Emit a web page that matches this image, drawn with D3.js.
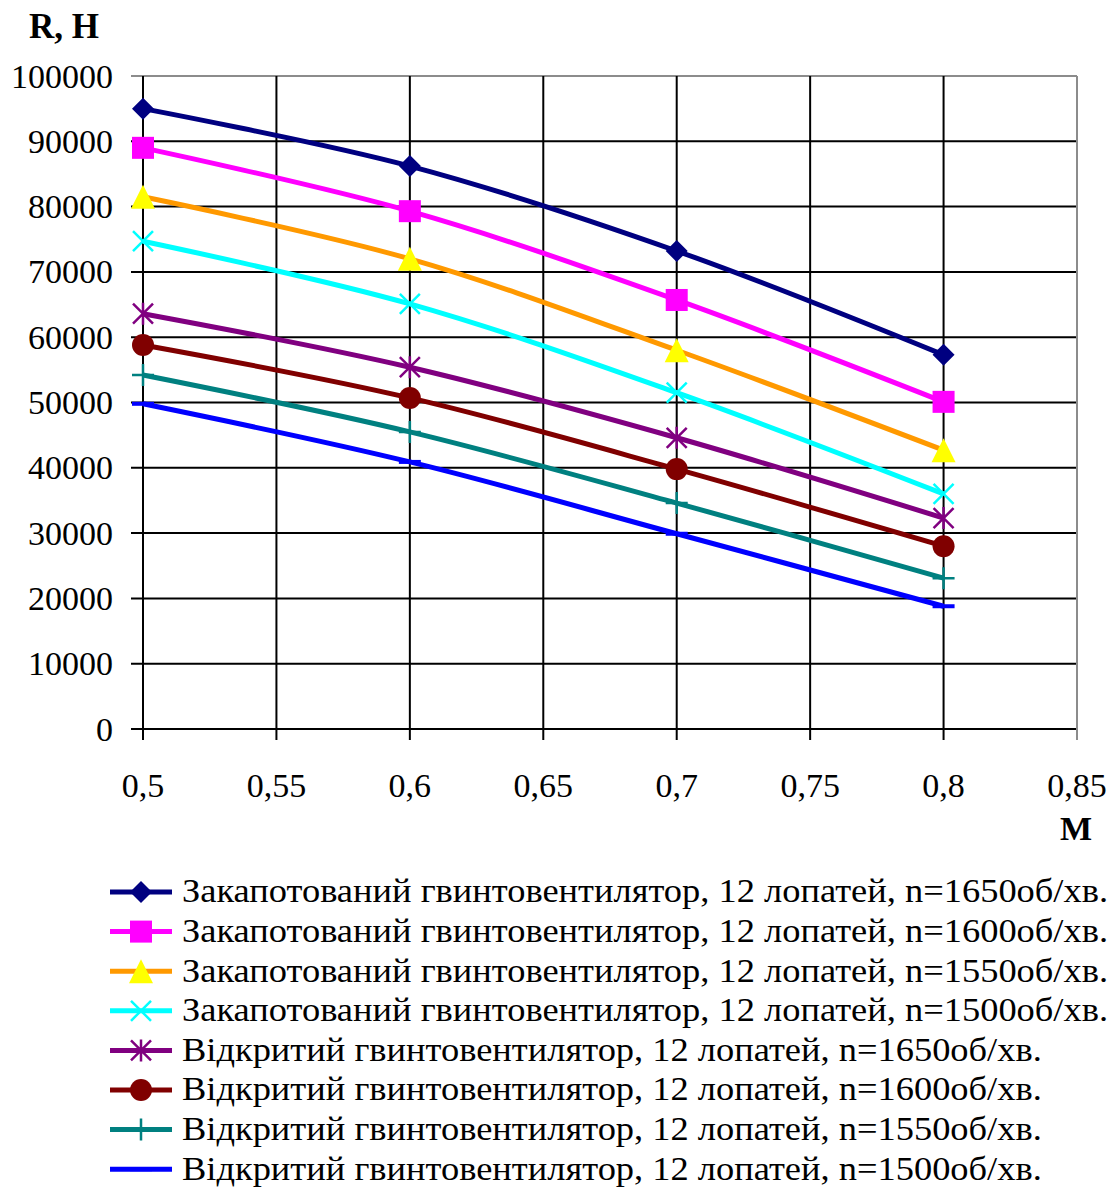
<!DOCTYPE html>
<html>
<head>
<meta charset="utf-8">
<script src="https://cdn.jsdelivr.net/npm/d3@7"></script>
<style>
  body { margin: 0; background: #fff; font-family: 'Liberation Serif', serif; }
  #wrap { position: relative; width: 1119px; height: 1187px; }
  #wrap svg { position: absolute; left: 0; top: 0; }
  .lbl { position: absolute; white-space: nowrap; font-family: 'Liberation Serif', serif; color: #000; }
  .preload { position: absolute; left: 0; top: 0; font-family: 'Liberation Serif'; color: #fff; font-size: 2px; }
  .preload b { font-weight: bold; }
</style>
</head>
<body>
<div class="preload">Ab <b>R</b></div>
<div id="wrap"><svg id="chart" width="1119" height="1187"></svg></div>
<script>
// Mach numbers on the horizontal axis
const machValues = [0.5, 0.6, 0.7, 0.8];

// Thrust R, N for each fan configuration
const shrouded1650 = [95000, 86200, 73200, 57300];
const shrouded1600 = [89000, 79300, 65700, 50100];
const shrouded1550 = [81500, 72000, 58000, 42700];
const shrouded1500 = [74700, 65100, 51500, 36000];
const open1650 = [63600, 55400, 44600, 32300];
const open1600 = [58800, 50700, 39800, 28000];
const open1550 = [54200, 45500, 34600, 23100];
const open1500 = [49800, 40900, 29900, 18800];

const seriesNames = [
  "Закапотований гвинтовентилятор, 12 лопатей, n=1650об/хв.",
  "Закапотований гвинтовентилятор, 12 лопатей, n=1600об/хв.",
  "Закапотований гвинтовентилятор, 12 лопатей, n=1550об/хв.",
  "Закапотований гвинтовентилятор, 12 лопатей, n=1500об/хв.",
  "Відкритий гвинтовентилятор, 12 лопатей, n=1650об/хв.",
  "Відкритий гвинтовентилятор, 12 лопатей, n=1600об/хв.",
  "Відкритий гвинтовентилятор, 12 лопатей, n=1550об/хв.",
  "Відкритий гвинтовентилятор, 12 лопатей, n=1500об/хв."
];

const xTicks = [0.5, 0.55, 0.6, 0.65, 0.7, 0.75, 0.8, 0.85];
const yTicks = [0, 10000, 20000, 30000, 40000, 50000, 60000, 70000, 80000, 90000, 100000];

const seriesValues = [shrouded1650, shrouded1600, shrouded1550, shrouded1500,
                      open1650, open1600, open1550, open1500];
const lineColors = ["#000080", "#ff00ff", "#ff9900", "#00ffff", "#800080", "#800000", "#008080", "#0000ff"];
const markerFill = ["#000080", "#ff00ff", "#ffff00", "none", "none", "#800000", "none", "none"];
const markerTypes = ["diamond", "square", "triangle", "x", "star", "circle", "plus", "dash"];

const wrap = d3.select("#wrap");
const svg = d3.select("#chart");
const plot = { left: 143, right: 1077, top: 76, bottom: 729 };

const x = d3.scaleLinear().domain([0.5, 0.85]).range([plot.left, plot.right]);
const y = d3.scaleLinear().domain([0, 100000]).range([plot.bottom, plot.top]);

// grid
const grid = svg.append("g");
grid.selectAll("line.h").data(yTicks).join("line")
  .attr("x1", plot.left - 12).attr("x2", plot.right)
  .attr("y1", d => y(d)).attr("y2", d => y(d))
  .attr("stroke", d => d === 100000 ? "#8c8c8c" : "#000").attr("stroke-width", 2);
grid.selectAll("line.v").data(xTicks).join("line")
  .attr("y1", plot.top).attr("y2", plot.bottom + 11)
  .attr("x1", d => x(d)).attr("x2", d => x(d))
  .attr("stroke", d => d === 0.85 ? "#8c8c8c" : "#000").attr("stroke-width", 2);

// marker drawing
function drawMarker(g, type, fill, color) {
  const s = 11;
  switch (type) {
    case "diamond":
      g.append("path").attr("d", `M0,${-s}L${s},0L0,${s}L${-s},0Z`).attr("fill", fill);
      break;
    case "square":
      g.append("rect").attr("x", -11).attr("y", -11).attr("width", 22).attr("height", 22).attr("fill", fill);
      break;
    case "triangle":
      g.append("path").attr("d", `M0,-12L12,12L-12,12Z`).attr("fill", fill);
      break;
    case "circle":
      g.append("circle").attr("r", 11).attr("fill", fill);
      break;
    case "x":
      g.append("path").attr("d", "M-10,-10L10,10M-10,10L10,-10").attr("stroke", color).attr("stroke-width", 2.5);
      break;
    case "star":
      g.append("path").attr("d", "M-10,-10L10,10M-10,10L10,-10M0,-11L0,11").attr("stroke", color).attr("stroke-width", 2.5);
      break;
    case "plus":
      g.append("path").attr("d", "M-11,0L11,0M0,-11L0,11").attr("stroke", color).attr("stroke-width", 2.5);
      break;
    case "dash":
      g.append("path").attr("d", "M-11,0L11,0").attr("stroke", color).attr("stroke-width", 4);
      break;
  }
}

const line = d3.line().x(d => x(d[0])).y(d => y(d[1])).curve(d3.curveCatmullRom.alpha(0.5));

seriesValues.forEach((vals, i) => {
  const pts = machValues.map((m, j) => [m, vals[j]]);
  const g = svg.append("g");
  g.append("path").datum(pts).attr("d", line)
    .attr("fill", "none").attr("stroke", lineColors[i]).attr("stroke-width", 5);
  pts.forEach(p => {
    const mg = g.append("g").attr("transform", `translate(${x(p[0])},${y(p[1])})`);
    drawMarker(mg, markerTypes[i], markerFill[i], lineColors[i]);
  });
});

// legend keys
const legendY = i => 892 + i * 39.6;
const legend = svg.append("g");
seriesNames.forEach((name, i) => {
  const cy = legendY(i);
  const row = legend.append("g");
  row.append("line").attr("x1", 110).attr("x2", 172).attr("y1", cy).attr("y2", cy)
    .attr("stroke", lineColors[i]).attr("stroke-width", 5);
  const mg = row.append("g").attr("transform", `translate(141,${cy})`);
  drawMarker(mg, markerTypes[i], markerFill[i], lineColors[i]);
});

// text label placed by its baseline; anchor: start | middle | end
function label(layer, px, baseline, txt, opts = {}) {
  const fs = opts.size || 34;
  const shift = opts.anchor === "end" ? "-100%" : opts.anchor === "middle" ? "-50%" : "0";
  return layer.append("div").attr("class", "lbl")
    .style("left", px + "px")
    .style("top", (baseline - 0.8375 * fs) + "px")
    .style("font-size", fs + "px")
    .style("line-height", fs + "px")
    .style("font-weight", opts.bold ? "bold" : "normal")
    .style("transform", `translateX(${shift})`)
    .text(txt);
}

function drawLabels() {
  wrap.selectAll("div.texts").remove();
  const layer = wrap.append("div").attr("class", "texts");
  const fmtY = d3.format("d");
  yTicks.forEach(d => label(layer, 113, y(d) + 12, fmtY(d), { anchor: "end" }));
  xTicks.forEach(d => label(layer, x(d), 797, String(d).replace(".", ","), { anchor: "middle" }));

  label(layer, 29, 38, "R, H", { bold: true, size: 35 });
  label(layer, 1076, 840, "M", { bold: true, size: 34, anchor: "middle" });

  const legendLabels = seriesNames.map((name, i) => label(layer, 182, legendY(i) + 11, name, { size: 33 }));
  // legend captions are stretched wider than the font's natural width
  const natural = legendLabels[0].node().getBoundingClientRect().width;
  const stretch = 926 / natural;
  legendLabels.forEach(l => l.style("transform-origin", "0 0").style("transform", `scaleX(${stretch})`));
}

drawLabels();
if (document.fonts && document.fonts.load) {
  Promise.all([
    document.fonts.load("34px 'Liberation Serif'"),
    document.fonts.load("bold 34px 'Liberation Serif'")
  ]).then(drawLabels).catch(() => {});
}
</script>
</body>
</html>
